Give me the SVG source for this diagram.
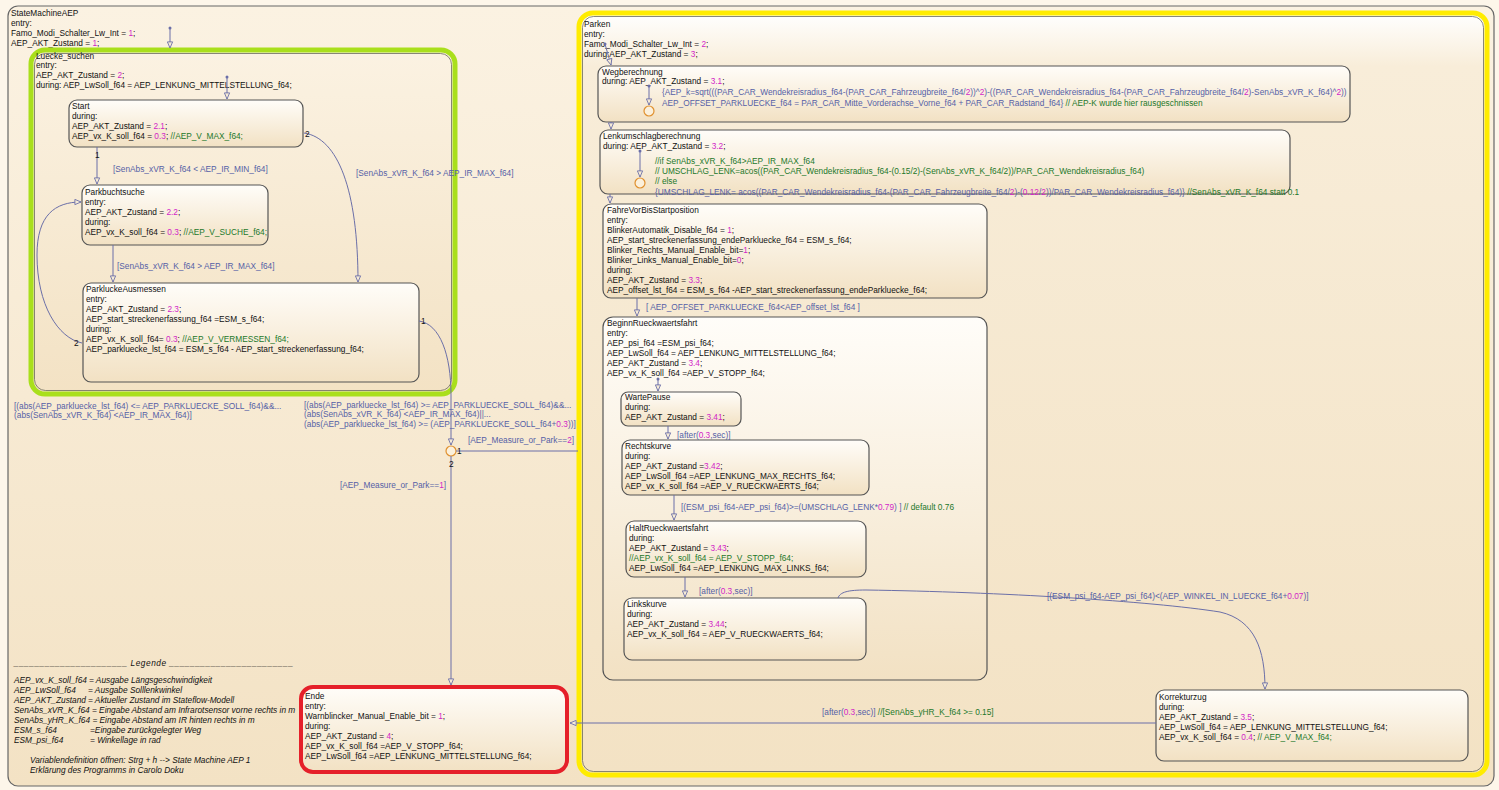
<svg xmlns="http://www.w3.org/2000/svg" width="1499" height="790" viewBox="0 0 1499 790">
<defs>
<linearGradient id="gOut" x1="0" y1="0" x2="0" y2="1">
<stop offset="0" stop-color="#fbf2e2"/><stop offset="1" stop-color="#f3e2c4"/>
</linearGradient>
<linearGradient id="gBig" x1="0" y1="0" x2="0" y2="1">
<stop offset="0" stop-color="#ffffff"/><stop offset="0.07" stop-color="#f8edd9"/><stop offset="1" stop-color="#f3e2c4"/>
</linearGradient>
<linearGradient id="gBox" x1="0" y1="0" x2="0" y2="1">
<stop offset="0" stop-color="#fffdf9"/><stop offset="1" stop-color="#f2e1c3"/>
</linearGradient>
<marker id="ar" viewBox="0 0 8 8" refX="7.5" refY="4" markerWidth="7" markerHeight="7" orient="auto" markerUnits="userSpaceOnUse">
<path d="M0.5,1 L7.5,4 L0.5,7 Z" fill="#f5ead6" stroke="#6b6fa8" stroke-width="1"/>
</marker>
<style>
.t{font-family:"Liberation Sans",Arial,sans-serif;font-size:8.3px;fill:#111}
.i{font-style:italic}
.n{fill:#d21fc8}
.c{fill:#23782a}
.l{fill:#555fa6}
.box{fill:url(#gBox);stroke:#555;stroke-width:1.2}
.cn{fill:none;stroke:#6b6fa8;stroke-width:1}
.ca{fill:none;stroke:#6b6fa8;stroke-width:1;marker-end:url(#ar)}
.jn{fill:#fbf0dc;stroke:#e0902e;stroke-width:1.2}
.dot{fill:#6b6fa8}
</style>
</defs>
<rect x="0" y="0" width="1499" height="790" fill="#fdf6ea"/>

<g id="StateMachineAEP">
<rect x="8" y="6" width="1486" height="780" rx="10" fill="url(#gOut)" stroke="#666" stroke-width="1.2"/>
<text class="t" x="11" y="16">StateMachineAEP</text>
<text class="t" x="11" y="26">entry:</text>
<text class="t" x="11" y="36">Famo_Modi_Schalter_Lw_Int = <tspan class="n">1</tspan>;</text>
<text class="t" x="11" y="46">AEP_AKT_Zustand = <tspan class="n">1</tspan>;</text>
</g>

<g id="Legende">
<text class="t i" x="14" y="666" textLength="279" lengthAdjust="spacing">______________________ Legende ________________________</text>
<text class="t i" x="14" y="683">AEP_vx_K_soll_f64</text><text class="t i" x="89" y="683">= Ausgabe Längsgeschwindigkeit</text>
<text class="t i" x="14" y="693">AEP_LwSoll_f64</text><text class="t i" x="88" y="693">= Ausgabe Solllenkwinkel</text>
<text class="t i" x="14" y="703">AEP_AKT_Zustand</text><text class="t i" x="88" y="703">= Aktueller Zustand im Stateflow-Modell</text>
<text class="t i" x="14" y="713">SenAbs_xVR_K_f64 = Eingabe Abstand am Infrarotsensor vorne rechts in m</text>
<text class="t i" x="14" y="723">SenAbs_yHR_K_f64 = Eingabe Abstand am  IR hinten rechts in m</text>
<text class="t i" x="14" y="733">ESM_s_f64</text><text class="t i" x="90" y="733">=Eingabe zurückgelegter Weg</text>
<text class="t i" x="14" y="743">ESM_psi_f64</text><text class="t i" x="90" y="743">= Winkellage in rad</text>
<text class="t i" x="30" y="763">Variablendefinition öffnen: Strg + h --&gt; State Machine AEP 1</text>
<text class="t i" x="30" y="773">Erklärung des Programms in Carolo Doku</text>
</g>

<g id="Luecke_suchen">
<rect x="31" y="50" width="424" height="344" rx="14" fill="url(#gOut)" stroke="#a9df1c" stroke-width="5"/>
<rect x="34.5" y="53.5" width="417" height="337" rx="11" fill="none" stroke="#6a6a5a" stroke-width="0.8"/>
<text class="t" x="36" y="59">Luecke_suchen</text>
<text class="t" x="36" y="68">entry:</text>
<text class="t" x="36" y="78">AEP_AKT_Zustand = <tspan class="n">2</tspan>;</text>
<text class="t" x="36" y="88">during: AEP_LwSoll_f64 = AEP_LENKUNG_MITTELSTELLUNG_f64;</text>
</g>

<g id="Start">
<rect class="box" x="69" y="100" width="234" height="47" rx="8"/>
<text class="t" x="72" y="109">Start</text>
<text class="t" x="72" y="119">during:</text>
<text class="t" x="72" y="129">AEP_AKT_Zustand = <tspan class="n">2.1</tspan>;</text>
<text class="t" x="72" y="139">AEP_vx_K_soll_f64 = <tspan class="n">0.3</tspan>; <tspan class="c">//AEP_V_MAX_f64;</tspan></text>
</g>

<g id="Parkbuchtsuche">
<rect class="box" x="82" y="185" width="186" height="60" rx="8"/>
<text class="t" x="85" y="195">Parkbuchtsuche</text>
<text class="t" x="85" y="205">entry:</text>
<text class="t" x="85" y="215">AEP_AKT_Zustand = <tspan class="n">2.2</tspan>;</text>
<text class="t" x="85" y="225">during:</text>
<text class="t" x="85" y="235">AEP_vx_K_soll_f64 = <tspan class="n">0.3</tspan>; <tspan class="c">//AEP_V_SUCHE_f64;</tspan></text>
</g>

<g id="ParkluckeAusmessen">
<rect class="box" x="83" y="283" width="336" height="99" rx="8"/>
<text class="t" x="86" y="292">ParkluckeAusmessen</text>
<text class="t" x="86" y="302">entry:</text>
<text class="t" x="86" y="312">AEP_AKT_Zustand = <tspan class="n">2.3</tspan>;</text>
<text class="t" x="86" y="322">AEP_start_streckenerfassung_f64 =ESM_s_f64;</text>
<text class="t" x="86" y="332">during:</text>
<text class="t" x="86" y="342">AEP_vx_K_soll_f64= <tspan class="n">0.3</tspan>; <tspan class="c">//AEP_V_VERMESSEN_f64;</tspan></text>
<text class="t" x="86" y="352">AEP_parkluecke_lst_f64 = ESM_s_f64 - AEP_start_streckenerfassung_f64;</text>
</g>

<g id="Ende">
<rect x="301" y="687" width="266" height="85" rx="12" fill="url(#gBox)" stroke="#e5202a" stroke-width="4"/>
<text class="t" x="305" y="699">Ende</text>
<text class="t" x="305" y="709">entry:</text>
<text class="t" x="305" y="719">Warnblincker_Manual_Enable_bit = <tspan class="n">1</tspan>;</text>
<text class="t" x="305" y="729">during:</text>
<text class="t" x="305" y="739">AEP_AKT_Zustand = <tspan class="n">4</tspan>;</text>
<text class="t" x="305" y="749">AEP_vx_K_soll_f64 =AEP_V_STOPP_f64;</text>
<text class="t" x="305" y="759">AEP_LwSoll_f64 =AEP_LENKUNG_MITTELSTELLUNG_f64;</text>
</g>

<g id="Parken">
<rect x="579" y="13" width="908" height="762" rx="14" fill="url(#gBig)" stroke="#ffec00" stroke-width="5"/>
<rect x="582.5" y="16.5" width="901" height="755" rx="11" fill="none" stroke="#6a6a5a" stroke-width="0.8"/>
<text class="t" x="584" y="27">Parken</text>
<text class="t" x="584" y="37">entry:</text>
<text class="t" x="584" y="47">Famo_Modi_Schalter_Lw_Int = <tspan class="n">2</tspan>;</text>
<text class="t" x="584" y="57">during:AEP_AKT_Zustand = <tspan class="n">3</tspan>;</text>
</g>

<g id="Wegberechnung">
<rect class="box" x="598" y="66" width="752" height="56" rx="8"/>
<text class="t" x="602" y="75">Wegberechnung</text>
<text class="t" x="602" y="84">during: AEP_AKT_Zustand = <tspan class="n">3.1</tspan>;</text>
<circle class="jn" cx="649" cy="111" r="5"/>
</g>

<g id="Lenkumschlagberechnung">
<rect class="box" x="600" y="130" width="690" height="64" rx="8"/>
<text class="t" x="603" y="139">Lenkumschlagberechnung</text>
<text class="t" x="603" y="149">during: AEP_AKT_Zustand = <tspan class="n">3.2</tspan>;</text>
<circle class="jn" cx="640" cy="183" r="5"/>
</g>

<g id="FahreVorBisStartposition">
<rect class="box" x="603" y="204" width="384" height="94" rx="8"/>
<text class="t" x="607" y="213">FahreVorBisStartposition</text>
<text class="t" x="607" y="223">entry:</text>
<text class="t" x="607" y="233">BlinkerAutomatik_Disable_f64 = <tspan class="n">1</tspan>;</text>
<text class="t" x="607" y="243">AEP_start_streckenerfassung_endeParkluecke_f64  = ESM_s_f64;</text>
<text class="t" x="607" y="253">Blinker_Rechts_Manual_Enable_bit=<tspan class="n">1</tspan>;</text>
<text class="t" x="607" y="263">Blinker_Links_Manual_Enable_bit=<tspan class="n">0</tspan>;</text>
<text class="t" x="607" y="273">during:</text>
<text class="t" x="607" y="283">AEP_AKT_Zustand = <tspan class="n">3.3</tspan>;</text>
<text class="t" x="607" y="293">AEP_offset_lst_f64 = ESM_s_f64 -AEP_start_streckenerfassung_endeParkluecke_f64;</text>
</g>

<g id="BeginnRueckwaertsfahrt">
<rect class="box" x="603" y="317" width="384" height="363" rx="10"/>
<text class="t" x="607" y="326">BeginnRueckwaertsfahrt</text>
<text class="t" x="607" y="336">entry:</text>
<text class="t" x="607" y="346">AEP_psi_f64 =ESM_psi_f64;</text>
<text class="t" x="607" y="356"> AEP_LwSoll_f64 = AEP_LENKUNG_MITTELSTELLUNG_f64;</text>
<text class="t" x="607" y="366">AEP_AKT_Zustand = <tspan class="n">3.4</tspan>;</text>
<text class="t" x="607" y="376">AEP_vx_K_soll_f64 =AEP_V_STOPP_f64;</text>
</g>

<g id="WartePause">
<rect class="box" x="621" y="392" width="120" height="34" rx="7"/>
<text class="t" x="625" y="400">WartePause</text>
<text class="t" x="625" y="410">during:</text>
<text class="t" x="625" y="420">AEP_AKT_Zustand = <tspan class="n">3.41</tspan>;</text>
</g>

<g id="Rechtskurve">
<rect class="box" x="622" y="440" width="247" height="55" rx="8"/>
<text class="t" x="625" y="449">Rechtskurve</text>
<text class="t" x="625" y="459">during:</text>
<text class="t" x="625" y="469">AEP_AKT_Zustand =<tspan class="n">3.42</tspan>;</text>
<text class="t" x="625" y="479">AEP_LwSoll_f64 =AEP_LENKUNG_MAX_RECHTS_f64;</text>
<text class="t" x="625" y="489">AEP_vx_K_soll_f64 =AEP_V_RUECKWAERTS_f64;</text>
</g>

<g id="HaltRueckwaertsfahrt">
<rect class="box" x="626" y="521" width="240" height="56" rx="8"/>
<text class="t" x="629" y="531">HaltRueckwaertsfahrt</text>
<text class="t" x="629" y="541">during:</text>
<text class="t" x="629" y="551">AEP_AKT_Zustand = <tspan class="n">3.43</tspan>;</text>
<text class="t c" x="629" y="561">//AEP_vx_K_soll_f64 = AEP_V_STOPP_f64;</text>
<text class="t" x="629" y="571">AEP_LwSoll_f64 =AEP_LENKUNG_MAX_LINKS_f64;</text>
</g>

<g id="Linkskurve">
<rect class="box" x="624" y="598" width="242" height="62" rx="8"/>
<text class="t" x="627" y="607">Linkskurve</text>
<text class="t" x="627" y="617">during:</text>
<text class="t" x="627" y="627">AEP_AKT_Zustand = <tspan class="n">3.44</tspan>;</text>
<text class="t" x="627" y="637">AEP_vx_K_soll_f64 = AEP_V_RUECKWAERTS_f64;</text>
</g>

<g id="Korrekturzug">
<rect class="box" x="1156" y="690" width="312" height="71" rx="8"/>
<text class="t" x="1159" y="700">Korrekturzug</text>
<text class="t" x="1159" y="710">during:</text>
<text class="t" x="1159" y="720">AEP_AKT_Zustand = <tspan class="n">3.5</tspan>;</text>
<text class="t" x="1159" y="730">AEP_LwSoll_f64 = AEP_LENKUNG_MITTELSTELLUNG_f64;</text>
<text class="t" x="1159" y="740">AEP_vx_K_soll_f64 = <tspan class="n">0.4</tspan>; <tspan class="c">// AEP_V_MAX_f64;</tspan></text>
</g>

<g id="Junction">
<circle class="jn" cx="451" cy="451" r="5"/>
</g>

<g id="connectors">
<circle class="dot" cx="170" cy="28" r="1.5"/>
<path class="ca" d="M170,28 L170,48"/>
<circle class="dot" cx="227" cy="77" r="1.5"/>
<path class="ca" d="M227,77 L227,99"/>
<path class="ca" d="M97,147 L97,184"/>
<text class="t" x="95" y="158">1</text>
<text class="t l" x="113" y="172">[SenAbs_xVR_K_f64 &lt; AEP_IR_MIN_f64]</text>
<path class="ca" d="M304,133 C338,138 358,190 358,282"/>
<text class="t" x="305" y="137">2</text>
<text class="t l" x="356" y="176">[SenAbs_xVR_K_f64 &gt; AEP_IR_MAX_f64]</text>
<path class="ca" d="M113,245 L113,282"/>
<text class="t l" x="117" y="269">[SenAbs_xVR_K_f64 &gt; AEP_IR_MAX_f64]</text>
<path class="ca" d="M82,343 C58,338 37,305 37,255 C37,215 55,202 81,202"/>
<text class="t" x="74" y="346">2</text>
<path class="ca" d="M419,321 C440,324 451,355 451,395 L451,445"/>
<text class="t" x="421" y="324">1</text>
<text class="t l" x="14" y="409">[(abs(AEP_parkluecke_lst_f64) &lt;= AEP_PARKLUECKE_SOLL_f64)&amp;&amp;...</text>
<text class="t l" x="14" y="418">(abs(SenAbs_xVR_K_f64) &lt;AEP_IR_MAX_f64)]</text>
<text class="t l" x="304" y="408">[(abs(AEP_parkluecke_lst_f64) &gt;= AEP_PARKLUECKE_SOLL_f64)&amp;&amp;...</text>
<text class="t l" x="304" y="417">(abs(SenAbs_xVR_K_f64) &lt;AEP_IR_MAX_f64)||...</text>
<text class="t l" x="304" y="427">(abs(AEP_parkluecke_lst_f64) &gt;= (AEP_PARKLUECKE_SOLL_f64+<tspan class="n">0.3</tspan>))]</text>
<path class="cn" d="M456,451 L578,451"/>
<text class="t" x="457" y="454">1</text>
<text class="t l" x="468" y="443">[AEP_Measure_or_Park==<tspan class="n">2</tspan>]</text>
<path class="ca" d="M451,456 L451,685"/>
<text class="t" x="449" y="467">2</text>
<text class="t l" x="340" y="488">[AEP_Measure_or_Park==<tspan class="n">1</tspan>]</text>

<circle class="dot" cx="605" cy="44" r="1.5"/>
<path class="ca" d="M605,44 L611,65"/>
<circle class="dot" cx="649" cy="86" r="1.5"/>
<path class="ca" d="M649,86 L649,105"/>
<text class="t l" x="662" y="95">{AEP_k=sqrt(((PAR_CAR_Wendekreisradius_f64-(PAR_CAR_Fahrzeugbreite_f64/<tspan class="n">2</tspan>))^<tspan class="n">2</tspan>)-((PAR_CAR_Wendekreisradius_f64-(PAR_CAR_Fahrzeugbreite_f64/<tspan class="n">2</tspan>)-SenAbs_xVR_K_f64)^<tspan class="n">2</tspan>))</text>
<text class="t l" x="662" y="106">AEP_OFFSET_PARKLUECKE_f64 = PAR_CAR_Mitte_Vorderachse_Vorne_f64 + PAR_CAR_Radstand_f64}<tspan class="c"> // AEP-K wurde hier rausgeschnissen</tspan></text>
<path class="ca" d="M611,122 L611,129"/>
<circle class="dot" cx="640" cy="151" r="1.5"/>
<path class="ca" d="M640,151 L640,177"/>
<text class="t c" x="655" y="164">//if SenAbs_xVR_K_f64&gt;AEP_IR_MAX_f64</text>
<text class="t c" x="655" y="174">// UMSCHLAG_LENK=acos((PAR_CAR_Wendekreisradius_f64-(0.15/2)-(SenAbs_xVR_K_f64/2))/PAR_CAR_Wendekreisradius_f64)</text>
<text class="t c" x="655" y="184">// else</text>
<text class="t l" x="655" y="195">{UMSCHLAG_LENK= acos((PAR_CAR_Wendekreisradius_f64-(PAR_CAR_Fahrzeugbreite_f64/<tspan class="n">2</tspan>)-(<tspan class="n">0.12</tspan>/<tspan class="n">2</tspan>))/PAR_CAR_Wendekreisradius_f64)}<tspan class="c"> //SenAbs_xVR_K_f64 statt 0.1</tspan></text>
<path class="ca" d="M610,194 L610,203"/>
<path class="ca" d="M637,298 L637,316"/>
<text class="t l" x="646" y="310">[ AEP_OFFSET_PARKLUECKE_f64&lt;AEP_offset_lst_f64 ]</text>
<circle class="dot" cx="658" cy="379" r="1.5"/>
<path class="ca" d="M658,379 L658,391"/>
<path class="ca" d="M668,426 L668,439"/>
<text class="t l" x="677" y="438">[after(<tspan class="n">0.3</tspan>,sec)]</text>
<path class="ca" d="M674,495 L674,520"/>
<text class="t l" x="681" y="510">[(ESM_psi_f64-AEP_psi_f64)&gt;=(UMSCHLAG_LENK*<tspan class="n">0.79</tspan>) ]<tspan class="c"> // default 0.76</tspan></text>
<path class="ca" d="M685,577 L685,597"/>
<text class="t l" x="699" y="594">[after(<tspan class="n">0.3</tspan>,sec)]</text>
<path class="ca" d="M838,598 C840,592 848,590 866,590 C1000,592 1150,601 1220,612 C1255,620 1265,650 1265,689"/>
<text class="t l" x="1047" y="599">[(ESM_psi_f64-AEP_psi_f64)&lt;(AEP_WINKEL_IN_LUECKE_f64+<tspan class="n">0.07</tspan>)]</text>
<path class="ca" d="M1156,723 L570,723"/>
<text class="t l" x="822" y="715">[after(<tspan class="n">0.3</tspan>,sec)]<tspan class="c"> //[SenAbs_yHR_K_f64 &gt;= 0.15]</tspan></text>
</g>
</svg>
